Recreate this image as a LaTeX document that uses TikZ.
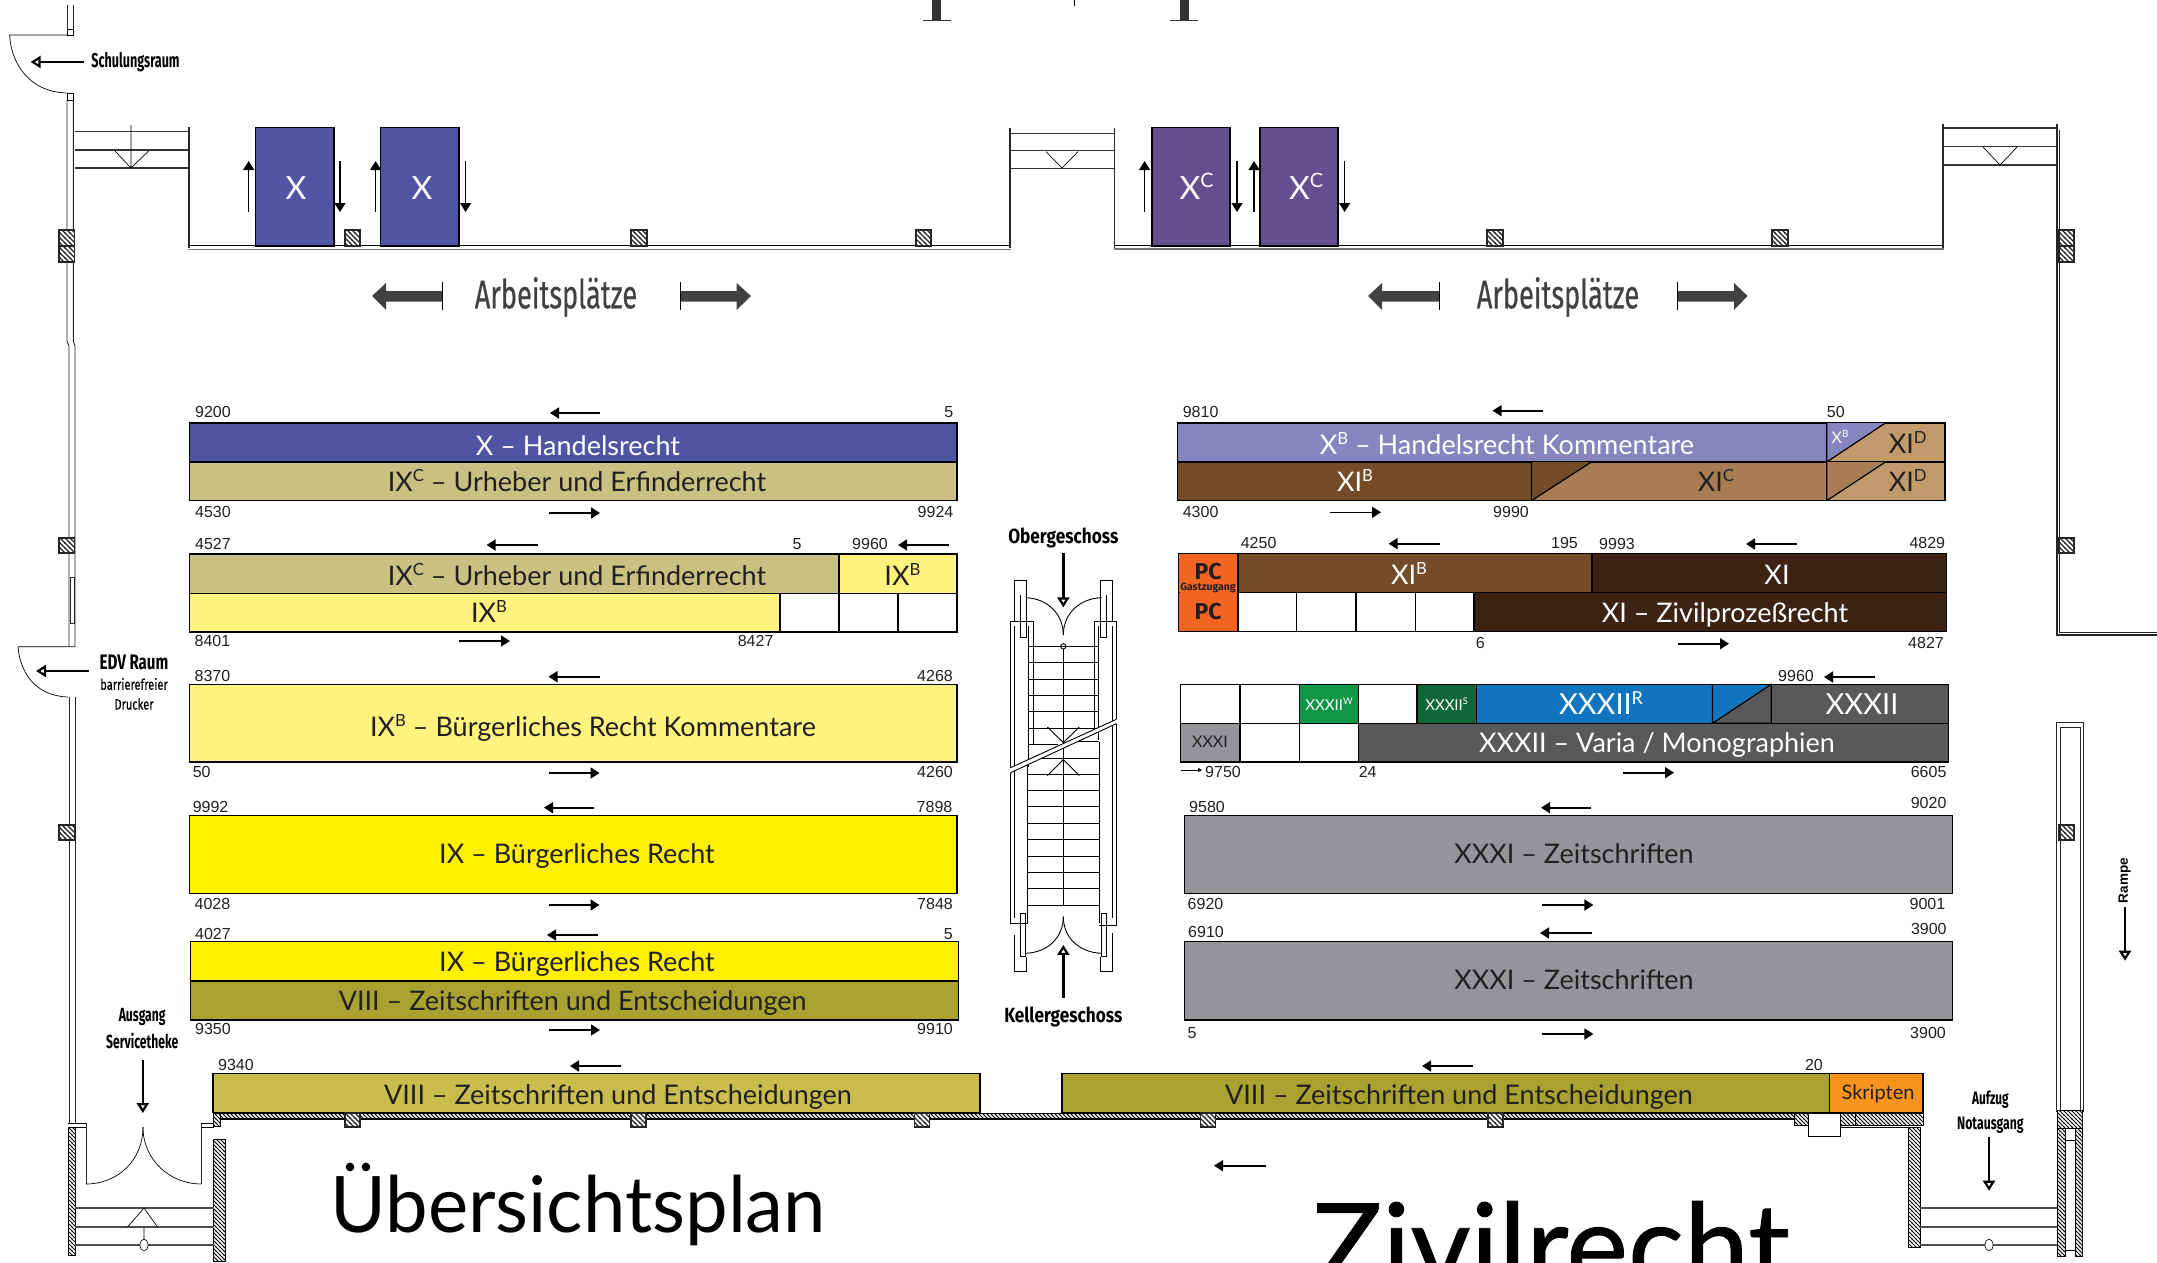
\documentclass[tikz,border=0pt]{standalone}
\usepackage{fontspec}
\usetikzlibrary{arrows.meta,patterns}
\setmainfont{Lato}
\newfontfamily\fatf[FakeBold=0.7]{Lato}
\newfontfamily\arialf{Liberation Sans}
\newfontfamily\dinf{Fira Sans}
\newfontfamily\dinm[FakeBold=0.5]{Fira Sans}
\definecolor{cX}{HTML}{4F55A3}\definecolor{cXc}{HTML}{634E8F}\definecolor{cIXc}{HTML}{C9C082}
\definecolor{cIXb}{HTML}{FFF380}\definecolor{cIX}{HTML}{FFF000}\definecolor{cVIIIa}{HTML}{A9A231}
\definecolor{cVIIIb}{HTML}{C9BD4D}\definecolor{cXb}{HTML}{8884BE}\definecolor{cXId}{HTML}{C19A6B}
\definecolor{cXIc}{HTML}{A87D55}\definecolor{cXIb}{HTML}{754C29}\definecolor{cXI}{HTML}{3C2314}
\definecolor{cPC}{HTML}{F26522}\definecolor{cW}{HTML}{0F9647}\definecolor{cS}{HTML}{106838}
\definecolor{cR}{HTML}{1174BE}\definecolor{cXXXII}{HTML}{58595B}\definecolor{cXXXI}{HTML}{939598}
\definecolor{cSk}{HTML}{F7941D}\definecolor{ink}{HTML}{231F20}\definecolor{din}{HTML}{414042}
\pgfdeclarepatternformonly{wallhatch}{\pgfqpoint{-1pt}{-1pt}}{\pgfqpoint{5pt}{5pt}}{\pgfqpoint{4pt}{4pt}}{\pgfsetlinewidth{.75pt}\pgfpathmoveto{\pgfqpoint{-.5pt}{4.5pt}}\pgfpathlineto{\pgfqpoint{4.5pt}{-.5pt}}\pgfusepath{stroke}}
\pgfdeclarepatternformonly{colhatch}{\pgfqpoint{-1pt}{-1pt}}{\pgfqpoint{6pt}{6pt}}{\pgfqpoint{5pt}{5pt}}{\pgfsetlinewidth{1.3pt}\pgfpathmoveto{\pgfqpoint{-.5pt}{5.5pt}}\pgfpathlineto{\pgfqpoint{5.5pt}{-.5pt}}\pgfusepath{stroke}}
\newcommand\supr[1]{\raisebox{0.36em}{\scalebox{0.62}{#1}}}
\newcommand\blk[5]{\filldraw[fill=#5,draw=black,line width=1.2pt] (#1,#2) rectangle (#3,#4);}
\newcommand\lab[5][27]{\node[anchor=base,inner sep=0,text=#4,font=\fontsize{#1}{#1}\selectfont] at (#2,#3) {#5};}
\newcommand\numL[3]{\node[nm,anchor=west] at (#1,#2) {#3};}
\newcommand\numR[3]{\node[nm,anchor=east] at (#1,#2) {#3};}
\newcommand\numC[3]{\node[nm] at (#1,#2) {#3};}
\newcommand\hatchbox[4]{\filldraw[hb] (#1,#2) rectangle (#3,#4);}
\newcommand\colbox[4]{\filldraw[draw=black!85,line width=1.3pt,pattern=colhatch,pattern color=black!85,preaction={fill=white}] (#1,#2) rectangle (#3,#4);}
\newcommand\din[6]{\node[inner sep=0,font=\dinf\bfseries\fontsize{#3}{#3}\selectfont,xscale=#4,text=#5] at (#1,#2) {#6};}
\tikzset{
 nm/.style={inner sep=0,font=\arialf\fontsize{16}{16}\selectfont,text=ink},
 sarr/.style={line width=1.6pt,-{Stealth[length=9pt,width=11pt,inset=0pt]}},
 oarr/.style={line width=2.6pt,-{Triangle[open,length=10pt,width=12pt,line width=2.2pt]}},
 wall/.style={line width=.9pt,draw=black!85},
 thin/.style={line width=.7pt,draw=black},
 hb/.style={draw=black,line width=.6pt,pattern=wallhatch,pattern color=black,preaction={fill=white}},
}
\begin{document}
\begin{tikzpicture}[x=1pt,y=-1pt]
\useasboundingbox (0,0) rectangle (2157,1263);
\clip (0,0) rectangle (2157,1263);
\fill[white] (0,0) rectangle (2157,1263);
% top fragments
\fill[black!80] (932,0) rectangle (941,20);\draw[line width=1.3pt,black!80] (923,20.5)--(951,20.5);
\fill[black!80] (1180,0) rectangle (1189,20);\draw[line width=1.3pt,black!80] (1170,20.5)--(1198,20.5);
\draw[thin] (1074,0)--(1074,6);
% left wall + doors
\draw[wall] (67,5)--(67,35) (73.3,5)--(73.3,35);
\draw[thin] (67,29) rectangle (73.3,35);
\draw[thin] (67,35)--(9.6,35) .. controls (11,62) and (28,92) .. (67,93);
\draw[thin] (67,93) rectangle (73.3,100);
\draw[wall] (67,100)--(67,341)--(69,346)--(69,646.7) (73.3,100)--(73.3,341)--(75,346)--(75,646.7);
\draw[thin] (75,646.7)--(18,646.7) .. controls (20,672) and (35,696) .. (68,697);
\draw[wall] (69,697)--(69,1123) (75,697)--(75,1123);
\draw[wall] (70,577) rectangle (74.5,623);
\colbox{59}{230}{74.6}{246}\colbox{59}{246}{74.6}{262}
\colbox{59}{538}{74.6}{553}\colbox{59}{825}{74.6}{840}
% top-left bay
\draw[line width=1.4pt,black!80] (75,131.7)--(189,131.7) (75,150)--(189,150) (75,168)--(189,168);
\draw[thin] (131,125)--(131,168) (115,151)--(131,168)--(148.6,151);
\draw[wall,line width=1.4pt] (189,127)--(189,248);
\draw[line width=1.8pt,black] (189,245.5)--(1010,245.5);
\draw[line width=1.8pt,black!55] (188,249.5)--(1011,249.5);
% mid bay
\draw[wall,line width=1.4pt] (1010,128)--(1010,248) (1114.4,128)--(1114.4,248);
\draw[line width=1.4pt,black!80] (1010,133.7)--(1114.4,133.7) (1010,150.7)--(1114.4,150.7) (1010,168.3)--(1114.4,168.3);
\draw[thin] (1046,151.7)--(1062,168)--(1078,151.7);
\draw[line width=1.8pt,black] (1114.4,245.5)--(1943,245.5);
\draw[line width=1.8pt,black!55] (1114,249)--(1944,249);
% right bay
\draw[wall,line width=1.4pt] (1943,124)--(1943,248);
\draw[wall,line width=1.4pt] (2057,124)--(2057,635)--(2157,635);
\draw[wall] (2059.5,130)--(2059.5,632.5)--(2157,632.5);
\draw[line width=1.4pt,black!80] (1943,128)--(2057,128) (1943,146.7)--(2057,146.7) (1943,165)--(2057,165);
\draw[thin] (1983,147)--(2000,165)--(2017,147);
\colbox{2059}{230}{2074}{246}\colbox{2059}{246}{2074}{262}
\colbox{2059}{538}{2074}{553}\colbox{2059}{825}{2074}{840}
% wall columns top
\colbox{345}{230}{360}{246}\colbox{631}{230}{647}{246}\colbox{916}{230}{931}{246}
\colbox{1487}{230}{1503}{246}\colbox{1772}{230}{1788}{246}
% upright shelves
\blk{255.7}{127.3}{334}{246}{cX}\blk{380.7}{127.3}{459}{246}{cX}
\blk{1152}{127.3}{1230}{246}{cXc}\blk{1260}{127.3}{1338}{246}{cXc}
\lab[32]{296}{199}{white}{X}\lab[32]{422}{199}{white}{X}
\lab[32]{1196.6}{199}{white}{X\supr{C}}\lab[32]{1306}{199}{white}{X\supr{C}}
\foreach \a in {248.7,375.6,1144.6,1254}{\draw[sarr,line width=1.2pt] (\a,212)--(\a,161);}
\foreach \a in {340,465.6,1237,1344.6}{\draw[sarr,line width=1.2pt] (\a,161)--(\a,212);}
% Arbeitsplaetze arrows
\foreach \a/\b/\c/\s in {372/386/442.6/1,751/736.6/680.5/1,1368/1382/1439/1,1747.6/1734/1677/1}{
 \fill[din] (\a,296)--(\b,283)--(\b,291)--(\c,291)--(\c,301.7)--(\b,301.7)--(\b,310)--cycle;
 \draw[line width=1pt,black] (\c,282)--(\c,310);}
\node[inner sep=0,font=\dinm\fontsize{40}{40}\selectfont,text=din,xscale=.68] at (556,297) {Arbeitsplätze};
\node[inner sep=0,font=\dinm\fontsize{40}{40}\selectfont,text=din,xscale=.68] at (1558,297) {Arbeitsplätze};
% side labels
\draw[oarr] (83.5,62)--(30.6,62);
\din{135.5}{62}{20}{.63}{black}{Schulungsraum}
\draw[oarr] (89,671)--(36,671);
\din{134}{662}{21}{.72}{black}{EDV Raum}
\node[inner sep=0,font=\dinm\fontsize{15}{15}\selectfont,xscale=.74,text=black] at (134,684) {barrierefreier};
\node[inner sep=0,font=\dinm\fontsize{15}{15}\selectfont,xscale=.74,text=black] at (134,704) {Drucker};
\din{142.2}{1017}{19}{.64}{black}{Ausgang}
\din{142.2}{1041}{19}{.64}{black}{Servicetheke}
\draw[oarr] (142.8,1060)--(142.8,1113);
\din{1990.4}{1100}{18}{.66}{black}{Aufzug}
\din{1990.4}{1125.7}{18}{.68}{black}{Notausgang}
\draw[oarr] (1989,1137)--(1989,1190.7);
\node[inner sep=0,rotate=90,font=\arialf\bfseries\fontsize{13.5}{13.5}\selectfont] at (2124.7,880.7) {Rampe};
\draw[oarr] (2125,907)--(2125,960.7);
% left blocks
\blk{189.5}{423}{957}{462}{cX}\blk{189.5}{462}{957}{500.7}{cIXc}
\lab{578}{455.6}{white}{X – Handelsrecht}\lab{577}{491.6}{ink}{IX\supr{C} – Urheber und Erfinderrecht}
\blk{189.5}{554}{839}{593.3}{cIXc}\blk{839}{554}{957}{593.3}{cIXb}
\blk{189.5}{593.3}{780}{632}{cIXb}\blk{780}{593.3}{839}{632}{white}\blk{839}{593.3}{898}{632}{white}\blk{898}{593.3}{957}{632}{white}
\lab{577}{585}{ink}{IX\supr{C} – Urheber und Erfinderrecht}\lab{902.4}{585}{ink}{IX\supr{B}}\lab{489}{622.5}{ink}{IX\supr{B}}
\blk{189.5}{684.3}{957}{762}{cIXb}\lab{593}{736.5}{ink}{IX\supr{B} – Bürgerliches Recht Kommentare}
\blk{189.5}{815.7}{957}{893.3}{cIX}\lab{577}{863.5}{ink}{IX – Bürgerliches Recht}
\blk{190.7}{941.7}{958.5}{981}{cIX}\blk{190.7}{981}{958.5}{1020}{cVIIIa}
\lab{577}{971.5}{ink}{IX – Bürgerliches Recht}\lab{572.7}{1010.5}{ink}{VIII – Zeitschriften und Entscheidungen}
\blk{213}{1073.7}{980}{1112.7}{cVIIIb}\lab{618}{1104.5}{ink}{VIII – Zeitschriften und Entscheidungen}
% right blocks row 1
\blk{1177.5}{423}{1826.7}{462}{cXb}\blk{1826.7}{423}{1945}{462}{cXId}
\fill[cXb] (1826.7,462)--(1885.4,423)--(1826.7,423)--cycle;\draw[line width=1.2pt] (1826.7,462)--(1885.4,423) (1826.7,423)--(1826.7,462);
\blk{1177.5}{462}{1531.4}{500.7}{cXIb}\blk{1531.4}{462}{1826.7}{500.7}{cXIc}\blk{1826.7}{462}{1945}{500.7}{cXId}
\fill[cXIb] (1531.4,500.7)--(1591.4,462)--(1531.4,462)--cycle;\draw[line width=1.2pt] (1531.4,500.7)--(1591.4,462) (1531.4,462)--(1531.4,500.7);
\fill[cXIc] (1826.7,500.7)--(1885.4,462)--(1826.7,462)--cycle;\draw[line width=1.2pt] (1826.7,500.7)--(1885.4,462) (1826.7,462)--(1826.7,500.7);
\lab{1507}{454}{white}{X\supr{B} – Handelsrecht Kommentare}
\lab[16]{1840}{443}{white}{X\supr{B}}\lab{1907.7}{453}{ink}{XI\supr{D}}
\lab{1355}{491.4}{white}{XI\supr{B}}\lab{1716}{491.4}{ink}{XI\supr{C}}\lab{1907.7}{491.4}{ink}{XI\supr{D}}
% row 2
\blk{1178.7}{553.3}{1238}{592.3}{cPC}\blk{1178.7}{592.3}{1238}{631.3}{cPC}\fill[cPC] (1179.5,585)rectangle(1237.4,600);
\blk{1238}{553.3}{1592}{592.3}{cXIb}\blk{1592}{553.3}{1946.6}{592.3}{cXI}
\blk{1238}{592.3}{1296.7}{631.3}{white}\blk{1296.7}{592.3}{1356}{631.3}{white}\blk{1356}{592.3}{1415.4}{631.3}{white}\blk{1415.4}{592.3}{1474}{631.3}{white}
\blk{1474}{592.3}{1946.6}{631.3}{cXI}
\node[anchor=base,inner sep=0,font=\dinf\bfseries\fontsize{23}{23}\selectfont,text=ink] at (1208,579) {PC};
\node[anchor=base,inner sep=0,font=\dinf\bfseries\fontsize{10.5}{10.5}\selectfont,text=ink] at (1208,590) {Gastzugang};
\node[anchor=base,inner sep=0,font=\dinf\bfseries\fontsize{23}{23}\selectfont,text=ink] at (1208,619) {PC};
\lab{1409}{584.5}{white}{XI\supr{B}}\lab{1777}{584.5}{white}{XI}\lab{1725}{622.5}{white}{XI – Zivilprozeßrecht}
% row 3
\blk{1180.7}{684.3}{1240}{723.3}{white}\blk{1240}{684.3}{1299.3}{723.3}{white}\blk{1299.3}{684.3}{1358.6}{723.3}{cW}
\blk{1358.6}{684.3}{1417}{723.3}{white}\blk{1417}{684.3}{1476.6}{723.3}{cS}\blk{1476.6}{684.3}{1771.2}{723.3}{cR}
\blk{1712.5}{684.3}{1771.2}{723.3}{cR}\blk{1771.2}{684.3}{1948.5}{723.3}{cXXXII}
\fill[cXXXII] (1712.5,723.3)--(1771.2,684.3)--(1771.2,723.3)--cycle;\draw[line width=1.2pt] (1712.5,723.3)--(1771.2,684.3)--(1771.2,723.3)--cycle (1712.5,684.3)--(1712.5,723.3);
\blk{1180.7}{723.3}{1240}{762}{cXXXI}\blk{1240}{723.3}{1299.3}{762}{white}\blk{1299.3}{723.3}{1358.6}{762}{white}\blk{1358.6}{723.3}{1948.5}{762}{cXXXII}
\lab[15]{1329}{710}{white}{XXXII\supr{W}}\lab[15]{1446.6}{710}{white}{XXXII\supr{S}}
\lab[29]{1601}{714.5}{white}{XXXII\supr{R}}\lab[29]{1862}{714.5}{white}{XXXII}
\lab[16]{1210}{747.7}{ink}{XXXI}\lab{1657}{752.5}{white}{XXXII – Varia / Monographien}
% XXXI
\blk{1184.5}{815.7}{1952.5}{893.3}{cXXXI}\blk{1184.5}{941.7}{1952.5}{1020}{cXXXI}
\lab{1574}{863.5}{ink}{XXXI – Zeitschriften}\lab{1574}{989.5}{ink}{XXXI – Zeitschriften}
% VIII right
\blk{1062}{1073.7}{1829.5}{1112.7}{cVIIIa}\blk{1829.5}{1073.7}{1923}{1112.7}{cSk}
\lab{1459}{1104.5}{ink}{VIII – Zeitschriften und Entscheidungen}\lab[20]{1878}{1099.5}{ink}{Skripten}
% numbers
\numL{195}{411.7}{9200}\numR{953.5}{411.7}{5}\numL{195}{511.7}{4530}\numR{953.5}{511.7}{9924}
\numL{195}{543.7}{4527}\numC{797}{543.7}{5}\numL{852}{543.7}{9960}
\numL{194.5}{640.7}{8401}\numR{773.6}{640.7}{8427}
\numL{194.5}{675.7}{8370}\numR{953}{675.7}{4268}\numL{192.6}{771.7}{50}\numR{953}{771.7}{4260}
\numL{192.6}{806.7}{9992}\numR{952.5}{806.7}{7898}\numL{194.5}{903.7}{4028}\numR{953}{903.7}{7848}
\numL{195}{933.7}{4027}\numR{953}{933.7}{5}\numL{195}{1029}{9350}\numR{953}{1029}{9910}\numL{218}{1065}{9340}
\numL{1182.6}{411.7}{9810}\numL{1826.7}{411.7}{50}\numL{1182.6}{511.7}{4300}\numL{1493}{511.7}{9990}
\numL{1240.6}{542.7}{4250}\numR{1578}{542.7}{195}\numL{1599}{544}{9993}\numR{1945.3}{543}{4829}
\numC{1480.4}{642.7}{6}\numR{1944}{642.7}{4827}\numL{1778}{675.7}{9960}
\numL{1205}{771.7}{9750}\numL{1358.6}{771.7}{24}\numR{1946.6}{771.7}{6605}
\numL{1189}{806.7}{9580}\numR{1946.6}{803.3}{9020}\numL{1187.5}{903.7}{6920}\numR{1945.4}{903.7}{9001}
\numL{1188}{931.7}{6910}\numR{1946.8}{928.7}{3900}\numL{1187.5}{1032.7}{5}\numR{1946}{1032.7}{3900}
\numR{1823}{1064.7}{20}
% small direction arrows
\foreach \a/\b/\y in {600/550/413,949/898/545,538/486.6/545,599.5/548.5/676.7,594/544/807.7,598/547/935,620.5/570/1066,
 1543/1492.5/410.7,1439.6/1388.6/543.7,1797/1746/544,1875/1824/677,1591.4/1541/807.7,1592/1540/933,1473/1422/1066,1265.7/1214/1165.7,
 549/600/513,459/510/641,548.5/599.5/773,548.5/599.5/905,549/600/1030,1330/1381/512.3,1678/1729/643.7,1623/1674/772.7,1541.7/1593.4/905,1541.7/1593.4/1034}
 {\draw[sarr] (\a,\y)--(\b,\y);}
\draw[line width=.8pt,-{Stealth[length=4pt,width=4pt,inset=0pt]}] (1180.7,770)--(1202,770);
% bottom wall
\hatchbox{215}{1113.3}{1794}{1118.7}
\draw[line width=1.6pt] (213,1119)--(1794,1119);
\foreach \a in {345,631,914.5,1200.7,1488}{\colbox{\a}{1113}{\a+15}{1127}}
\hatchbox{1794}{1113}{1808}{1125}
\draw[thin] (1808,1113) rectangle (1840,1136);
\hatchbox{1840}{1113}{1855}{1125}\hatchbox{1855}{1113}{1923}{1125}
\draw[thin] (1840,1127)--(1908,1127);
% left bottom entry
\draw[wall] (86,1123)--(86,1184) (201,1123)--(201,1184);
\draw[thin] (68,1123)--(86,1123) (68,1127)--(86,1127) (201,1123)--(214,1123) (201,1127)--(214,1127);
\draw[thin] (86,1184) .. controls (118,1184) and (143,1160) .. (143,1127);
\draw[thin] (201,1184) .. controls (170,1184) and (143,1160) .. (143,1127);
\hatchbox{68}{1127}{75}{1255.7}\hatchbox{213.6}{1139}{225}{1261.7}\hatchbox{213.6}{1113}{220.6}{1126}
\draw[line width=1.3pt,black!70] (75,1208)--(213.6,1208) (75,1227)--(213.6,1227) (75,1245)--(213.6,1245);
\draw[thin] (127.5,1227)--(144,1208)--(157.5,1227) (144,1227)--(144,1240);
\filldraw[fill=white,draw=black,line width=.6pt] (144,1245) ellipse (4 and 6);
% right bottom entry
\hatchbox{1908}{1127}{1920}{1247}
\draw[line width=1.3pt,black!70] (1920,1208)--(2057.6,1208) (1920,1227)--(2057.6,1227) (1920,1245)--(2057.6,1245);
\filldraw[fill=white,draw=black,line width=.6pt] (1989,1245) ellipse (4 and 6);
\draw[wall] (2056,722) rectangle (2083,1111);
\draw[wall] (2060,727) rectangle (2080,1111);
\hatchbox{2057.6}{1110.7}{2065}{1256.7}\hatchbox{2075}{1110.7}{2082.6}{1256.7}
\hatchbox{2057.6}{1110.7}{2082.6}{1128}
\draw[thin] (2065,1140)--(2075,1140) (2065,1250)--(2075,1250);
% titles
\node[anchor=base west,inner sep=0,font=\fontsize{78}{78}\selectfont,text=black,xscale=.975] (t1) at (330,1232.7) {Übersichtsplan};
\node[anchor=base west,inner sep=0,font=\fatf\fontsize{118}{118}\selectfont,text=black,xscale=.99] (t2) at (1312,1288) {Zivilrecht};
% stairs (coordinates in 3x crop space)
\begin{scope}[shift={(960,520)},x=.3333pt,y=-.3333pt,line width=.9pt]
 \node[inner sep=0,font=\dinf\bfseries\fontsize{20.5}{20.5}\selectfont,xscale=.84] at (310,55) {Obergeschoss};
 \node[inner sep=0,font=\dinf\bfseries\fontsize{20.5}{20.5}\selectfont,xscale=.84] at (310,1491) {Kellergeschoss};
 \draw[oarr] (310,100)--(310,262);
 \draw[oarr] (310,1433)--(310,1275);
 \draw (164,305)--(164,181)--(199,181)--(199,305) (422,305)--(422,181)--(457,181)--(457,305);
 \draw (181,225)--(181,353)--(199,353)--(199,225) (439,225)--(439,353)--(422,353)--(422,225);
 \draw (197,233) .. controls (260,235) and (310,280) .. (310,345);
 \draw (425,233) .. controls (360,235) and (310,280) .. (310,345);
 \draw (152,743)--(152,305)--(220,305)--(220,675) (469,598)--(469,305)--(402,305)--(402,625);
 \draw (163,318)--(163,738) (456,318)--(456,603) (206,318)--(206,740) (414,318)--(414,660);
 \draw[line width=1.4pt] (202,735)--(202,1210) (418,665)--(418,1210);
 \draw (152,758)--(152,1210)--(205,1210) (469,611)--(469,1215)--(417,1215) (163,745)--(163,1195) (457,612)--(457,1195);
 \foreach \y in {379,428,478,527,576,625}{\draw[line width=1pt] (207,\y)--(414,\y);}
 \draw[line width=1pt] (207,674)--(295,674) (345,666)--(417,666) (240,715)--(417,715);
 \foreach \y in {764,813,861,911,960,1009,1058,1107,1156}{\draw[line width=1pt] (205,\y)--(417,\y);}
 \draw (310,387)--(310,1156);
 \draw (310,379) circle (8);
 \draw (262,621)--(310,668)--(358,621) (262,767)--(310,719)--(358,767);
 \fill[white] (152,743)--(469,598)--(469,611)--(152,758)--cycle;
 \draw (152,743)--(469,598) (152,758)--(469,611);
 \draw (197,1300) .. controls (260,1298) and (310,1255) .. (310,1190);
 \draw (425,1300) .. controls (360,1298) and (310,1255) .. (310,1190);
 \draw (164,1245)--(164,1354)--(199,1354)--(199,1310) (422,1310)--(422,1354)--(457,1354)--(457,1240);
 \draw (181,1180)--(181,1310)--(197,1310)--(197,1180)--cycle (439,1180)--(439,1310)--(425,1310)--(425,1180)--cycle;
\end{scope}
\end{tikzpicture}
\end{document}
